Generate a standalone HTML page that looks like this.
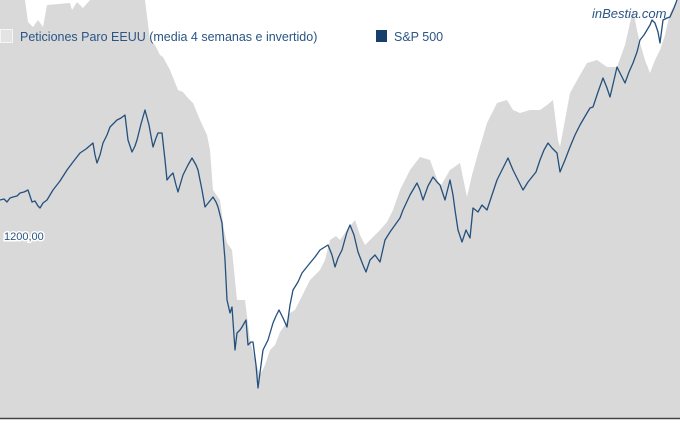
<!DOCTYPE html>
<html><head><style>
body{margin:0;width:680px;height:420px;overflow:hidden;background:#fff;font-family:"Liberation Sans",sans-serif}
</style></head><body>
<svg width="680" height="420" viewBox="0 0 680 420" xmlns="http://www.w3.org/2000/svg">
<path fill="#d9d9d9" d="M0,0 L25,0 L28,22 L33,27 L38,20 L43,27 L47,5 L70,3 L72,10 L77,2 L83,8 L90,0 L145,0 L150,40 L155,45 L160,55 L163,57 L170,70 L178,90 L183,92 L187,97 L193,103 L200,120 L207,135 L210,150 L213,190 L220,200 L224,230 L227,243 L232,250 L237,300 L245,300 L250,340 L255,360 L260,375 L265,365 L270,350 L275,345 L280,332 L285,325 L290,313 L295,310 L300,300 L305,290 L310,280 L315,275 L320,270 L325,260 L330,240 L336,236 L340,240 L347,230 L355,220 L360,235 L365,245 L372,238 L380,230 L387,222 L393,210 L400,190 L410,170 L420,157 L430,160 L440,187 L450,170 L460,163 L467,197 L472,175 L477,157 L487,123 L497,103 L507,100 L513,110 L520,113 L530,110 L540,110 L547,105 L553,100 L558,140 L560,147 L565,120 L570,93 L580,75 L587,63 L597,60 L607,67 L617,67 L625,45 L630,23 L633,10 L637,30 L640,43 L645,60 L650,73 L655,60 L660,50 L665,35 L670,13 L677,0 L680,0 L680,418 L0,418 Z"/>
<line x1="0" y1="418.5" x2="680" y2="418.5" stroke="#444" stroke-width="1.5"/>
<polyline fill="none" stroke="#24507d" stroke-width="1.3" stroke-linejoin="round" points="0,200 4,199 7,202 10,198 13,197 17,196 20,193 24,192 28,190 30,196 32,202 35,201 38,206 40,208 43,203 47,200 53,190 60,181 67,170 73,162 80,153 86,149 93,143 95,155 97,163 100,155 103,143 107,135 110,127 114,123 117,120 121,118 125,115 128,140 130,146 132,152 135,146 137,140 141,124 145,110 149,125 153,147 156,138 158,133 162,133 165,160 167,180 170,176 173,173 176,185 178,192 183,175 188,165 192,158 196,165 198,170 202,190 205,207 209,202 213,197 216,202 218,207 222,223 225,260 227,300 230,313 232,307 235,350 237,333 240,330 242,327 246,320 248,345 251,342 253,342 256,365 258,388 261,365 263,350 268,340 273,323 276,316 279,310 283,318 287,327 290,305 293,290 298,282 302,273 306,268 310,263 315,257 320,250 328,245 332,255 335,267 338,258 342,250 347,232 350,225 354,235 358,252 363,265 366,272 370,260 375,255 380,262 385,240 390,232 395,225 400,218 403,210 410,195 417,183 420,190 423,200 428,186 433,177 437,182 440,185 445,200 448,188 450,180 453,195 455,210 458,230 462,242 466,230 470,238 473,208 478,212 482,205 487,210 492,195 497,180 503,168 508,158 513,170 518,180 523,190 528,182 532,177 536,172 540,160 544,150 548,143 552,148 557,153 560,172 565,160 570,147 575,135 580,125 587,113 590,108 593,107 598,92 603,78 607,88 610,97 614,80 617,67 621,75 625,83 629,72 633,63 637,52 640,40 644,35 647,30 650,25 652,20 655,23 658,32 660,43 663,20 667,18 670,17 674,8 677,0"/>
<rect x="0.5" y="29.5" width="12" height="13" fill="#e4e4e4" stroke="#f5f5f5"/>
<text x="20" y="41" font-size="12.5" fill="#2a5585" font-family="Liberation Sans,sans-serif">Peticiones Paro EEUU (media 4 semanas e invertido)</text>
<rect x="376" y="30" width="11" height="12" fill="#173f6c"/>
<text x="394" y="41" font-size="12.5" fill="#2a5585" font-family="Liberation Sans,sans-serif">S&amp;P 500</text>
<text x="592" y="18" font-size="13" font-style="italic" fill="#2a5585" font-family="Liberation Sans,sans-serif">inBestia.com</text>
<text x="4" y="240" font-size="11" fill="#2a5585" stroke="#fff" stroke-width="3" paint-order="stroke" font-family="Liberation Sans,sans-serif">1200,00</text>
</svg>
</body></html>
